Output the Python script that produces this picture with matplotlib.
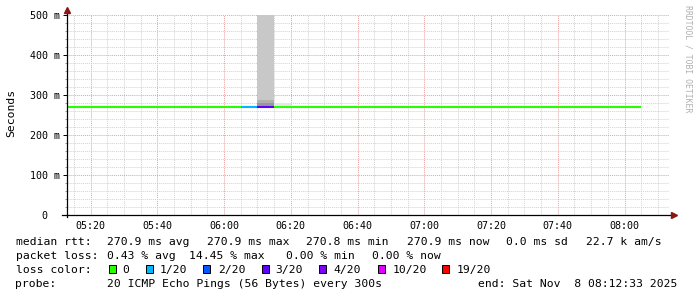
import matplotlib
matplotlib.use("Agg")
import matplotlib.pyplot as plt
import matplotlib.dates as mdates
from matplotlib.patches import Rectangle
import pandas as pd

plt.rcParams['font.family'] = ['DejaVu Sans Mono']

# -----------------------------
# data (5 min steps)
# -----------------------------
step_start = pd.date_range("2025-11-08 05:10", periods=35, freq="5min")
median_ms = [270.9, 270.9, 270.9, 270.9, 270.9, 270.9, 270.9, 270.9, 270.9, 270.9,
             270.9, 270.9, 270.9, 270.9, 270.9, 270.9, 270.9, 270.9, 270.9, 270.9,
             270.9, 270.9, 270.9, 270.9, 270.9, 270.9, 270.9, 270.9, 270.9, 270.9,
             270.9, 270.9, 270.9, 270.9, 270.9]
loss_count = [0, 0, 0, 0, 0, 0, 0, 0, 0, 0,
              0, 1, 3, 0, 0, 0, 0, 0, 0, 0,
              0, 0, 0, 0, 0, 0, 0, 0, 0, 0,
              0, 0, 0, 0, 0]

# smoke bands (ping spread)
smoke_time = ["05:45", "06:10", "06:10", "06:10", "06:15"]
smoke_lo = [270.9, 272.5, 280.5, 287.5, 272.5]
smoke_hi = [273.0, 280.5, 287.5, 500.0, 281.0]
smoke_gray = ["#e6e6e6", "#999999", "#b0b0b0", "#c8c8c8", "#e6e6e6"]

loss_levels = [0, 1, 2, 3, 4, 10, 19]
loss_names = ["0", "1/20", "2/20", "3/20", "4/20", "10/20", "19/20"]
loss_colors = ["#26ff00", "#00b8ff", "#0059ff", "#5e00ff", "#7e00ff", "#dd00ff", "#ff0000"]

y_ticks = [0, 100, 200, 300, 400, 500]
y_labels = ["0  ", "100 m", "200 m", "300 m", "400 m", "500 m"]

rtt_stats = ["270.9 ms avg", "270.9 ms max", "270.8 ms min", "270.9 ms now",
             "0.0 ms sd", "22.7 k am/s"]
loss_stats = ["0.43 % avg", "14.45 % max", "0.00 % min", "0.00 % now"]
probe_text = "20 ICMP Echo Pings (56 Bytes) every 300s"
end_text = "end: Sat Nov  8 08:12:33 2025"

t_begin = pd.Timestamp("2025-11-08 05:12:50")
t_end = pd.Timestamp("2025-11-08 08:13:20")

# -----------------------------
# figure
# -----------------------------
W, H = 697, 297
fig = plt.figure(figsize=(W / 100, H / 100), dpi=100, facecolor="white")


def fx(x):
    return x / W


def fy(y):
    return 1 - y / H


ax = fig.add_axes([fx(66.7), fy(215), (669 - 66.7) / W, 200 / H])
ax.set_facecolor("white")

step = 5 / 1440
x0 = mdates.date2num(step_start)

for t, lo, hi, c in zip(smoke_time, smoke_lo, smoke_hi, smoke_gray):
    xs = mdates.date2num(pd.Timestamp("2025-11-08 " + t))
    ax.bar(xs, hi - lo, width=step, bottom=lo, align="edge", color=c,
           linewidth=0, zorder=2)

cmap = dict(zip(loss_levels, loss_colors))
ax.hlines(median_ms, x0, x0 + step, colors=[cmap[l] for l in loss_count],
          linewidth=1.5, capstyle="butt", zorder=3)

ax.set_xlim(t_begin, t_end)
ax.set_ylim(0, 500)

ax.xaxis.set_major_locator(mdates.MinuteLocator(byminute=[0, 20, 40]))
ax.xaxis.set_minor_locator(mdates.MinuteLocator(byminute=range(0, 60, 5)))
ax.xaxis.set_major_formatter(mdates.DateFormatter("%H:%M"))
ax.set_yticks(y_ticks)
ax.set_yticklabels(y_labels)
ax.set_yticks(range(0, 501, 20), minor=True)

ax.grid(True, which="minor", color="#d2d2d2", lw=0.7, linestyle=(0, (1, 1)), zorder=0)
ax.grid(True, which="major", color="#e8a0a0", lw=0.7, linestyle=(0, (1, 1)), zorder=0)
ax.set_axisbelow(True)

ax.tick_params(axis="x", which="both", length=0, labelsize=7.2, pad=4)
ax.tick_params(axis="y", which="major", length=2.9, width=0.7, labelsize=7.2, pad=2.2)
ax.tick_params(axis="y", which="minor", length=1.5, width=0.7, color="#999999")
for s in ax.spines.values():
    s.set_visible(False)

# axis lines with arrows
ax.plot([-0.007, 1.006], [0, 0], transform=ax.transAxes, color="black",
        lw=0.9, clip_on=False, zorder=5)
ax.plot([0, 0], [-0.008, 1.02], transform=ax.transAxes, color="black",
        lw=0.9, clip_on=False, zorder=5)
ax.plot([1.009], [0], transform=ax.transAxes, marker=">", ms=4, color="#8b1515",
        clip_on=False, zorder=6)
ax.plot([0], [1.023], transform=ax.transAxes, marker="^", ms=4, color="#8b1515",
        clip_on=False, zorder=6)

fig.text(fx(11), fy(113), "Seconds", rotation=90, ha="center", va="center",
         fontsize=8.2)
fig.text(fx(688), fy(59), "RRDTOOL / TOBI OETIKER", rotation=270, ha="center",
         va="center", fontsize=5.9, color="#b0b0b0")

# -----------------------------
# legend block
# -----------------------------
fs = 8.2
base = [245, 259, 273.3, 287.3]

fig.text(fx(15.5), fy(base[0]), "median rtt:", fontsize=fs, va="baseline")
for x, s in zip([106.8, 206.8, 305.5, 407.2, 506.2, 585.5], rtt_stats):
    fig.text(fx(x), fy(base[0]), s, fontsize=fs, va="baseline")

fig.text(fx(15.5), fy(base[1]), "packet loss:", fontsize=fs, va="baseline")
for x, s in zip([106.8, 188.8, 286.2, 371.8], loss_stats):
    fig.text(fx(x), fy(base[1]), s, fontsize=fs, va="baseline")

fig.text(fx(15.5), fy(base[2]), "loss color:", fontsize=fs, va="baseline")
sq_x = [108.7, 145.7, 203.3, 261.7, 319.3, 377.7, 442.3]
lab_x = [122.5, 159.5, 217.8, 275.5, 333.5, 392.2, 456.8]
for sx, lx, name, c in zip(sq_x, lab_x, loss_names, loss_colors):
    fig.patches.append(Rectangle((fx(sx), fy(273.3)), 7 / W, 8 / H,
                                 transform=fig.transFigure, facecolor=c,
                                 edgecolor="black", linewidth=0.7))
    fig.text(fx(lx), fy(base[2]), name, fontsize=fs, va="baseline")

fig.text(fx(15.5), fy(base[3]), "probe:", fontsize=fs, va="baseline")
fig.text(fx(106.8), fy(base[3]), probe_text, fontsize=fs, va="baseline")
fig.text(fx(477.8), fy(base[3]), end_text, fontsize=fs, va="baseline")

fig.savefig("out.png", dpi=100, facecolor="white")
plt.close(fig)
